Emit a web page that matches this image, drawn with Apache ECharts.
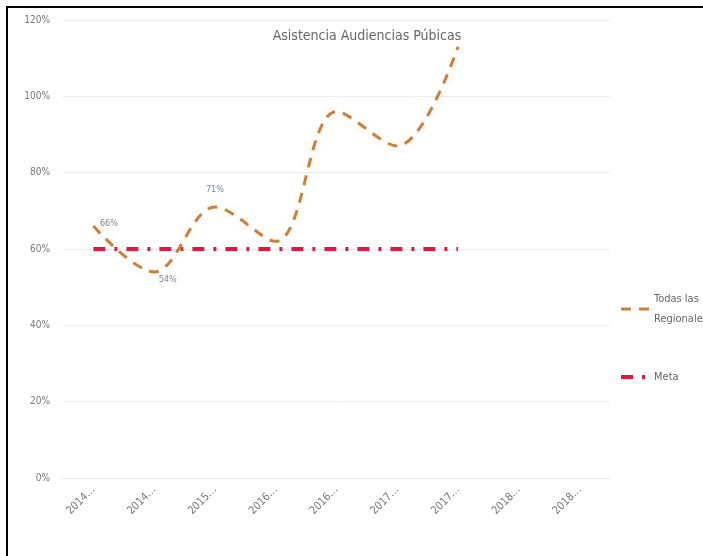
<!DOCTYPE html>
<html>
<head>
<meta charset="utf-8">
<script src="https://cdn.jsdelivr.net/npm/echarts@6/dist/echarts.min.js"></script>
<style>
  body { margin: 0; background: #fff; }
  #chart { position: absolute; left: 0; top: 0; width: 703px; height: 556px; }
  .frame { position: absolute; left: 6px; top: 6px; width: 697px; height: 550px;
           border-left: 2px solid #000; border-top: 2px solid #000; pointer-events: none; }
</style>
</head>
<body>
<div id="chart"></div>
<div class="frame"></div>
<script>
// categorías (cortadas como en el original)
const periodos = ['2014…', '2014…', '2015…', '2016…', '2016…', '2017…', '2017…', '2018…', '2018…'];
// asistencia, todas las regionales (%)
const todas = [66, 54, 71, 62, 96, 87, 113, null, null];
// meta (%)
const meta = [60, 60, 60, 60, 60, 60, 60, null, null];
// etiquetas visibles
const etiquetas = [0, 1, 2];
const yTicks = [0, 20, 40, 60, 80, 100, 120];

const fuente = '"DejaVu Sans Condensed", "Roboto", sans-serif';
const labelPos = ['right', 'right', 'top'];
const labelOff = [[0, -2], [-2, 8], [0, -6]];

const guionTodas = [10, 8];
const guionMeta = [12, 9, 3, 9];

let myChart = echarts.init(document.getElementById('chart'));

myChart.setOption({
  backgroundColor: '#fff',
  animation: false,
  title: {
    text: 'Asistencia Audiencias Púbicas',
    left: 362, top: 24, textAlign: 'center',
    textStyle: { fontFamily: fuente, fontSize: 14, fontWeight: 'normal', color: '#666' }
  },
  grid: { left: 63, right: 93, top: 20, bottom: 78 },
  legend: {
    orient: 'vertical',
    left: 614, top: 284,
    itemWidth: 28, itemHeight: 10, itemGap: 38,
    textStyle: { fontFamily: fuente, fontSize: 11, color: '#666', lineHeight: 20 },
    formatter: n => n == 'Todas las Regionales' ? 'Todas las\nRegionales' : n,
    data: [
      { name: 'Todas las Regionales', itemStyle: { opacity: 0 }, lineStyle: { type: guionTodas, width: 3 } },
      { name: 'Meta', itemStyle: { opacity: 0 }, lineStyle: { type: guionMeta, width: 4 } }
    ]
  },
  xAxis: {
    type: 'category',
    data: periodos,
    axisLine: { lineStyle: { color: '#e6e6e6' } },
    axisTick: { show: false },
    axisLabel: { rotate: 45, color: '#777', fontFamily: fuente, fontSize: 11, margin: 10 }
  },
  yAxis: {
    type: 'value',
    min: yTicks[0], max: yTicks[yTicks.length - 1], interval: 20,
    axisLabel: { formatter: '{value}%', color: '#777', fontFamily: fuente, fontSize: 10, margin: 13 },
    splitLine: { lineStyle: { color: '#ececec' } }
  },
  series: [
    {
      name: 'Todas las Regionales',
      type: 'line',
      smooth: 0.35,
      showSymbol: true,
      symbol: 'circle',
      symbolSize: 1,
      itemStyle: { color: 'rgba(0,0,0,0)', borderWidth: 0 },
      lineStyle: { width: 3, type: guionTodas, color: '#c8813e',
                   shadowColor: 'rgba(250,190,120,0.35)', shadowBlur: 8 },
      data: todas.map((v, i) => etiquetas.includes(i) ? {
        value: v,
        label: { show: true, position: labelPos[i], offset: labelOff[i], formatter: '{c}%', distance: 6,
                 color: '#7a8590', fontFamily: fuente, fontSize: 9 }
      } : v),
      z: 3
    },
    {
      name: 'Meta',
      type: 'line',
      showSymbol: false,
      symbol: 'none',
      color: '#e5173f',
      lineStyle: { width: 4, type: guionMeta, color: '#e5173f' },
      data: meta,
      z: 2
    }
  ]
});
</script>
</body>
</html>
